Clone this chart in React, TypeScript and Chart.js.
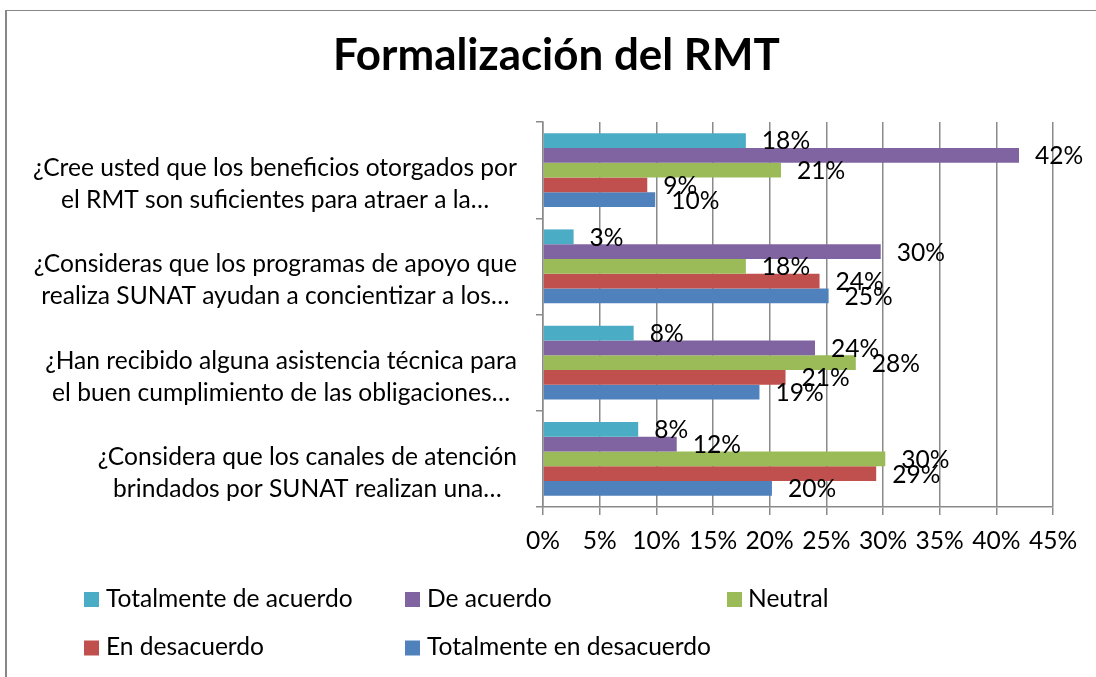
import React, { useEffect, useRef } from "react";
import { Chart, registerables } from "chart.js";

Chart.register(...registerables);

// ---------- data ----------
const chartTitle = "Formalización del RMT";

const categories: string[][] = [
  ["¿Cree usted que los beneficios otorgados por", "el RMT son suficientes para atraer a la…"],
  ["¿Consideras que los programas de apoyo que", "realiza SUNAT ayudan a concientizar a los…"],
  ["¿Han recibido alguna asistencia técnica para", "el buen cumplimiento de las obligaciones…"],
  ["¿Considera que los canales de atención", "brindados por SUNAT realizan una…"],
];

const seriesNames = [
  "Totalmente de acuerdo",
  "De acuerdo",
  "Neutral",
  "En desacuerdo",
  "Totalmente en desacuerdo",
];

const totalmenteDeAcuerdo = [17.9, 2.7, 8.0, 8.4];
const deAcuerdo = [42.0, 29.8, 24.0, 11.8];
const neutral = [21.0, 17.9, 27.6, 30.2];
const enDesacuerdo = [9.2, 24.4, 21.4, 29.4];
const totalmenteEnDesacuerdo = [9.9, 25.2, 19.1, 20.2];

const xMin = 0;
const xMax = 45;
const xStep = 5;

const seriesColors = ["#4BACC6", "#8064A2", "#9BBB59", "#C0504D", "#4F81BD"];

// ---------- styling ----------
const FONT = "Lato";
const W = 1096;
const H = 677;

function fitSize(text: string, weight: string, target: number): number {
  const c = document.createElement("canvas").getContext("2d")!;
  c.font = `${weight} 100px ${FONT}`;
  const w = c.measureText(text).width;
  return (100 * target) / w;
}

export default function App() {
  const ref = useRef<HTMLCanvasElement | null>(null);

  useEffect(() => {
    const canvas = ref.current;
    if (!canvas) return;

    const baseSize = fitSize(categories[0][0], "normal", 484);
    const titleSize = fitSize(chartTitle, "bold", 447);

    const seriesValues = [
      totalmenteDeAcuerdo,
      deAcuerdo,
      neutral,
      enDesacuerdo,
      totalmenteEnDesacuerdo,
    ];

    const overlay = {
      id: "overlay",
      beforeDraw(chart: any) {
        const ctx = chart.ctx;
        ctx.save();
        ctx.fillStyle = "#ffffff";
        ctx.fillRect(0, 0, W, H);
        ctx.fillStyle = "#878787";
        ctx.fillRect(5, 10, 2, H - 10);
        ctx.fillRect(5, 10, W - 5, 1);
        ctx.restore();
      },
      afterDraw(chart: any) {
        const ctx = chart.ctx;
        const yScale = chart.scales.y;
        ctx.save();
        ctx.fillStyle = "#000000";

        // title
        ctx.font = `bold ${titleSize}px ${FONT}`;
        ctx.textAlign = "center";
        ctx.textBaseline = "alphabetic";
        ctx.fillText(chartTitle, 556.4, 69.5);

        // category labels
        ctx.font = `${baseSize}px ${FONT}`;
        ctx.textBaseline = "middle";
        categories.forEach((lines, i) => {
          const cy = yScale.getPixelForValue(i);
          const bw = Math.max(...lines.map((l) => ctx.measureText(l).width));
          const cx = 517 - bw / 2;
          lines.forEach((l, j) => {
            ctx.fillText(l, cx, cy - 2 + j * 32);
          });
        });

        // data labels
        ctx.textAlign = "left";
        chart.data.datasets.forEach((ds: any, di: number) => {
          const meta = chart.getDatasetMeta(di);
          meta.data.forEach((el: any, i: number) => {
            const v = ds.data[i] as number;
            ctx.fillText(Math.round(v) + "%", el.x + 16, el.y + 1);
          });
        });

        // legend
        const legendPos = [
          { sx: 84, tx: 106, y: 599 },
          { sx: 405, tx: 427, y: 599 },
          { sx: 727, tx: 748, y: 599 },
          { sx: 84, tx: 106, y: 647.5 },
          { sx: 405, tx: 427, y: 647.5 },
        ];
        seriesNames.forEach((name, i) => {
          const p = legendPos[i];
          ctx.fillStyle = seriesColors[i];
          ctx.fillRect(p.sx, p.y - 7, 15, 15);
          ctx.fillStyle = "#000000";
          ctx.textAlign = "left";
          ctx.fillText(name, p.tx, p.y);
        });

        ctx.restore();
      },
    };

    const chart = new Chart(canvas, {
      type: "bar",
      data: {
        labels: categories.map((c) => c.join(" ")),
        datasets: seriesNames.map((name, i) => ({
          label: name,
          data: seriesValues[i],
          backgroundColor: seriesColors[i],
          borderWidth: 0,
          categoryPercentage: 0.768,
          barPercentage: 1,
        })),
      },
      options: {
        indexAxis: "y",
        responsive: false,
        animation: false,
        devicePixelRatio: 1,
        layout: { padding: { left: 0, top: 122, right: 43, bottom: 120 } },
        plugins: {
          legend: { display: false },
          title: { display: false },
          tooltip: { enabled: false },
        },
        scales: {
          x: {
            min: xMin,
            max: xMax,
            ticks: {
              stepSize: xStep,
              callback: (v: any) => v + "%",
              color: "#000000",
              font: { family: FONT, size: baseSize },
              padding: 541 - 515 - 0.6 * baseSize,
              maxRotation: 0,
            },
            grid: { color: "#8a8a8a", lineWidth: 1.5, tickLength: 8 },
            border: { color: "#8a8a8a", width: 1.5 },
            afterFit: (s: any) => {
              s.height = 50;
            },
          },
          y: {
            ticks: { display: false },
            grid: {
              drawOnChartArea: false,
              color: "#8a8a8a",
              lineWidth: 1.5,
              tickLength: 7,
              offset: true,
            },
            border: { color: "#8a8a8a", width: 1.5 },
            afterFit: (s: any) => {
              s.width = 543;
            },
          },
        },
      } as any,
      plugins: [overlay],
    });

    return () => chart.destroy();
  }, []);

  return (
    <div style={{ position: "absolute", left: 0, top: 0, width: W, height: H }}>
      <canvas ref={ref} width={W} height={H} style={{ display: "block" }} />
    </div>
  );
}
